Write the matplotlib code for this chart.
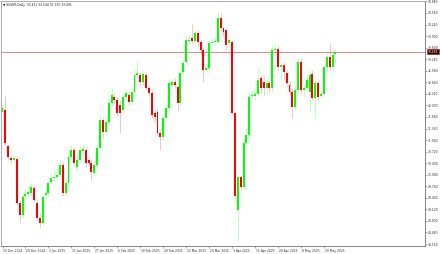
import matplotlib
matplotlib.use("Agg")
import matplotlib.pyplot as plt
import matplotlib.transforms as mtransforms
import numpy as np

# ---- data (SILVER, Daily) ----
opens = [31.82, 31.87, 30.88, 30.54, 30.49, 30.52, 29.30, 28.96, 29.49, 29.55,
         29.57, 29.71, 29.30, 28.88, 28.74, 29.52, 29.57, 29.88, 29.99, 30.02,
         30.07, 30.35, 29.57, 29.85, 30.57, 30.77, 30.29, 30.49, 30.74, 30.77,
         30.49, 30.41, 30.13, 30.35, 30.82, 31.60, 31.26, 31.54, 32.07, 32.23,
         32.15, 32.01, 31.87, 32.23, 32.29, 32.09, 32.37, 32.84, 32.84, 32.65,
         32.84, 32.48, 32.34, 31.79, 31.82, 31.24, 31.13, 31.65, 31.93, 32.57,
         32.65, 32.51, 32.07, 32.93, 33.20, 33.78, 33.87, 33.78, 34.01, 33.76,
         33.54, 32.98, 33.04, 33.73, 33.76, 33.76, 34.42, 34.14, 34.09, 33.73,
         33.76, 31.79, 29.10, 30.02, 29.74, 30.96, 31.18, 32.26, 32.26, 32.32,
         32.76, 32.65, 32.48, 32.62, 32.48, 33.54, 33.56, 33.06, 33.12, 32.90,
         32.57, 32.37, 31.96, 32.43, 33.20, 32.43, 32.48, 32.37, 32.87, 32.21,
         32.62, 32.26, 32.32, 33.06, 33.34, 33.06, 33.411]
highs = [32.04, 32.29, 30.93, 30.63, 30.60, 30.57, 29.38, 29.55, 29.71, 29.77,
         29.85, 29.80, 29.38, 29.02, 29.52, 29.71, 29.94, 30.13, 30.21, 30.27,
         30.49, 30.43, 29.99, 30.71, 30.90, 30.85, 30.63, 30.88, 30.90, 30.85,
         30.57, 30.49, 30.49, 30.93, 31.74, 31.68, 31.65, 32.21, 32.48, 32.34,
         32.23, 32.15, 32.34, 32.48, 32.37, 32.48, 32.98, 33.26, 32.93, 32.98,
         32.93, 32.57, 32.43, 31.87, 31.93, 31.32, 31.76, 32.04, 32.76, 32.76,
         32.76, 32.59, 32.98, 33.26, 33.92, 33.95, 34.26, 34.09, 34.09, 33.81,
         33.62, 33.15, 33.81, 33.87, 33.87, 34.59, 34.56, 34.20, 34.14, 33.89,
         33.81, 31.85, 30.07, 30.07, 31.04, 31.37, 32.37, 32.43, 32.48, 33.04,
         32.84, 32.82, 32.76, 32.70, 33.67, 33.70, 33.65, 33.20, 33.20, 32.98,
         32.65, 32.48, 32.57, 33.31, 33.31, 32.59, 32.84, 32.98, 32.98, 32.70,
         32.70, 32.43, 33.15, 33.45, 33.73, 33.59, 33.544]
lows = [31.76, 30.91, 30.49, 30.40, 30.43, 29.24, 28.74, 28.88, 29.44, 29.46,
        29.49, 29.32, 28.83, 28.60, 28.66, 29.44, 29.49, 29.80, 29.91, 29.94,
        29.99, 29.49, 29.49, 29.77, 30.49, 30.32, 30.21, 30.41, 30.63, 30.29,
        30.32, 29.94, 30.05, 30.27, 30.74, 31.10, 31.18, 31.46, 31.98, 32.07,
        31.71, 31.24, 31.79, 32.15, 32.01, 32.01, 32.29, 32.76, 32.57, 32.57,
        32.43, 32.26, 31.65, 31.54, 31.15, 30.77, 31.04, 31.57, 31.85, 32.48,
        32.48, 31.87, 31.98, 32.84, 33.12, 33.70, 33.70, 33.70, 33.67, 33.40,
        32.65, 32.90, 32.98, 33.65, 33.65, 33.70, 34.06, 33.92, 33.54, 33.65,
        31.73, 29.44, 28.27, 29.66, 29.66, 30.85, 31.04, 32.15, 32.15, 32.23,
        32.34, 32.29, 32.29, 32.37, 32.37, 33.40, 32.98, 32.70, 32.70, 32.54,
        32.29, 31.65, 31.87, 32.34, 32.34, 32.23, 32.37, 31.87, 32.15, 31.65,
        32.15, 32.21, 32.23, 32.93, 32.98, 32.98, 33.135]
closes = [31.93, 30.96, 30.57, 30.49, 30.54, 29.30, 28.96, 29.46, 29.55, 29.60,
          29.74, 29.38, 28.88, 28.74, 29.46, 29.57, 29.85, 29.99, 30.02, 30.07,
          30.35, 29.57, 29.85, 30.57, 30.77, 30.41, 30.49, 30.77, 30.79, 30.41,
          30.41, 30.16, 30.35, 30.82, 31.60, 31.26, 31.54, 32.07, 32.29, 32.15,
          31.79, 31.79, 32.23, 32.34, 32.09, 32.37, 32.84, 32.90, 32.65, 32.87,
          32.48, 32.34, 31.73, 31.68, 31.24, 31.13, 31.65, 31.93, 32.62, 32.65,
          32.57, 32.07, 32.90, 33.17, 33.81, 33.81, 33.78, 34.01, 33.76, 33.54,
          32.98, 33.04, 33.73, 33.76, 33.78, 34.42, 34.14, 34.03, 33.67, 33.81,
          31.79, 29.49, 30.02, 29.74, 30.96, 31.18, 32.23, 32.29, 32.32, 32.70,
          32.48, 32.48, 32.62, 32.48, 33.54, 33.56, 33.06, 33.12, 32.93, 32.62,
          32.37, 31.96, 32.43, 33.20, 32.43, 32.48, 32.70, 32.84, 32.21, 32.62,
          32.23, 32.32, 33.06, 33.34, 33.06, 33.40, 33.491]

date_labels = ["10 Dec 2024", "20 Dec 2024", "3 Jan 2025", "15 Jan 2025", "27 Jan 2025",
               "6 Feb 2025", "18 Feb 2025", "28 Feb 2025", "12 Mar 2025", "24 Mar 2025",
               "3 Apr 2025", "15 Apr 2025", "28 Apr 2025", "8 May 2025", "20 May 2025"]
price_ticks = [34.880, 34.560, 34.240, 33.920, 33.600, 33.280, 32.960, 32.640,
               32.320, 32.000, 31.680, 31.360, 31.040, 30.720, 30.400, 30.080,
               29.760, 29.440, 29.120, 28.800, 28.480, 28.160]
title_text = "SILVER,Daily  33.411 33.544 33.135 33.491"
last_price = 33.491

# ---- figure ----
W, H = 440, 254
fig = plt.figure(figsize=(W / 100, H / 100), dpi=100)
fig.patch.set_facecolor("white")
ax = fig.add_axes([1 / W, 8 / H, 424 / W, 245 / H])
ax.set_facecolor("white")

o = np.array(opens); c = np.array(closes); h = np.array(highs); l = np.array(lows)
x = np.arange(len(o))
up = c >= o
cols = np.where(up, "#00ff00", "#ff0000")

ax.vlines(x, l, h, colors=cols, linewidth=0.5, alpha=0.35, zorder=2)
body = np.where(np.abs(c - o) < 0.02, 0.03 * np.sign(c - o + 1e-9), c - o)
ax.bar(x, body, bottom=o, width=0.68, color=cols, linewidth=0, zorder=3)

px_per_bar = 2.87
ax.set_xlim(-1.5 / px_per_bar, -1.5 / px_per_bar + 424 / px_per_bar)
ax.set_ylim(28.106, 34.892)

# price line
ax.axhline(last_price, color="#e07070", linewidth=0.6, zorder=1)

# axes styling
for side in ["left", "top"]:
    ax.spines[side].set_color("#a0a0a0")
    ax.spines[side].set_linewidth(0.6)
for side in ["right", "bottom"]:
    ax.spines[side].set_color("#707070")
    ax.spines[side].set_linewidth(0.6)

ax.yaxis.tick_right()
ax.set_yticks(price_ticks)
ax.set_yticklabels([f"{v:.3f}" for v in price_ticks])
ax.tick_params(axis="y", labelsize=2.2, length=1.2, width=0.4, pad=0.8,
               colors="#707070", labelcolor="#333333")

ax.set_xticks(np.arange(len(date_labels)) * 8)
ax.set_xticklabels([])
ax.tick_params(axis="x", length=1.2, width=0.4, colors="#707070")
for i, lab in enumerate(date_labels):
    ax.text(i * 8 + 0.2, -0.012, lab, transform=mtransforms.blended_transform_factory(ax.transData, ax.transAxes),
            ha="left", va="top", fontsize=2.2, color="#333333")

# last price tag
ax.text(1.006, last_price, f"{last_price:.3f}",
        transform=mtransforms.blended_transform_factory(ax.transAxes, ax.transData),
        ha="left", va="center", fontsize=2.2, color="white",
        bbox=dict(boxstyle="square,pad=0.25", facecolor="#2a0000", edgecolor="#cc0000", linewidth=0.4),
        clip_on=False)

# title
ax.text(0.004, 0.993, "\u25bc " + title_text, transform=ax.transAxes,
        ha="left", va="top", fontsize=2.2, color="#222222")

fig.savefig("out.png", dpi=100, facecolor="white")
